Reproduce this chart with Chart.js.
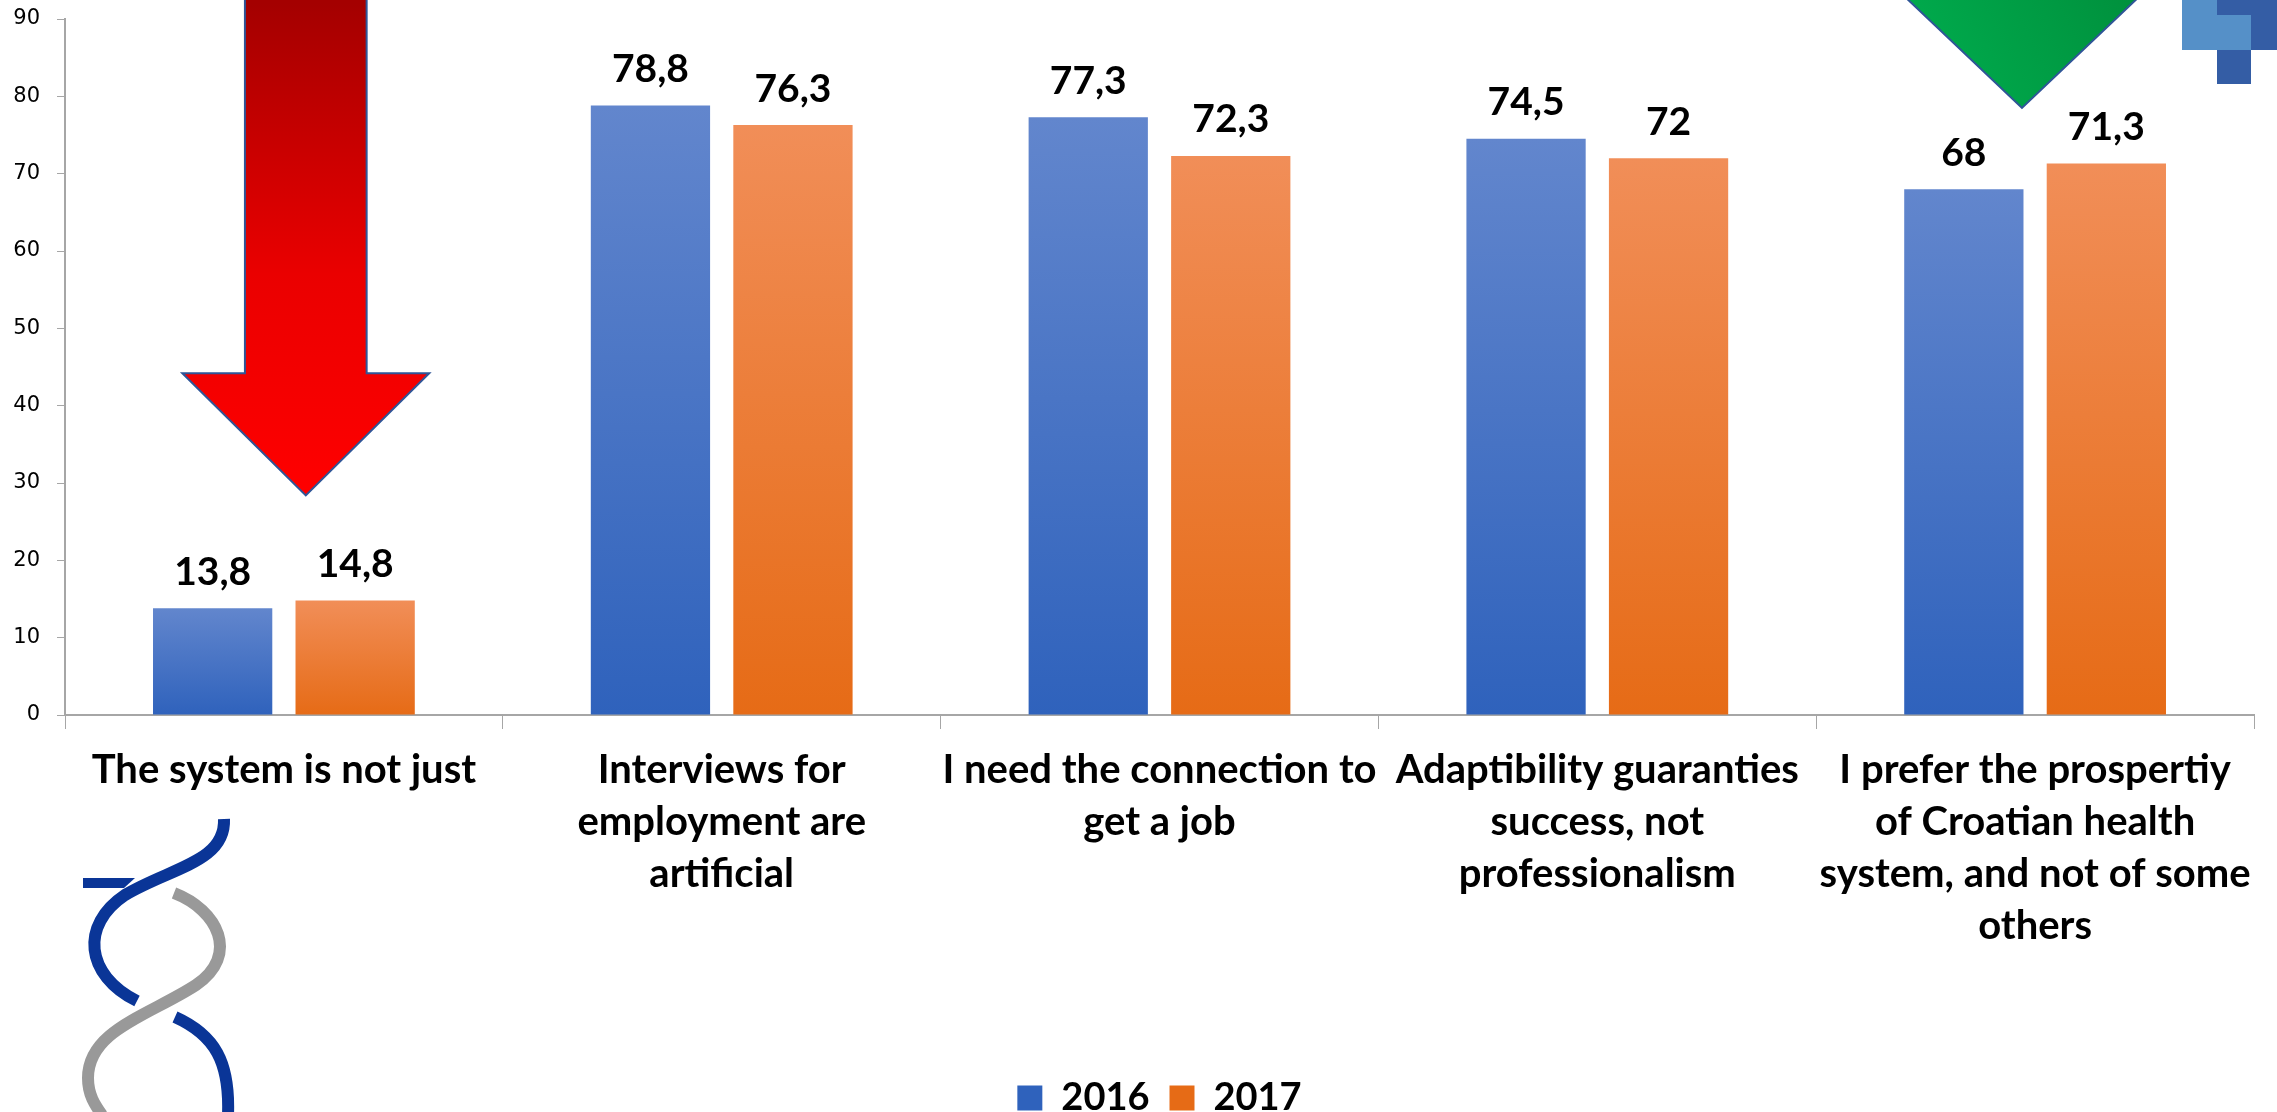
<!DOCTYPE html>
<html>
<head>
<meta charset="utf-8">
<script src="https://cdn.jsdelivr.net/npm/chart.js@4/dist/chart.umd.min.js"></script>
<style>
  html, body { margin: 0; padding: 0; background: #fff; }
  #wrap { width: 2277px; height: 1112px; }
</style>
</head>
<body>
<div id="wrap"><canvas id="chart" width="2277" height="1112"></canvas></div>
<script>
// categories (multi-line labels as shown under the axis)
const categories = [
  ['The system is not just'],
  ['Interviews for', 'employment are', 'artificial'],
  ['I need the connection to', 'get a job'],
  ['Adaptibility guaranties', 'success, not', 'professionalism'],
  ['I prefer the prospertiy', 'of Croatian health', 'system, and not of some', 'others']
];
const values2016 = [13.8, 78.8, 77.3, 74.5, 68];
const values2017 = [14.8, 76.3, 72.3, 72, 71.3];
const yTicks = [0, 10, 20, 30, 40, 50, 60, 70, 80, 90];

// vertical gradient from bar top to its base
function barFill(topColor, bottomColor, flat) {
  return (context) => {
    const chart = context.chart;
    const y = chart.scales.y;
    if (!y || context.type !== 'data') return flat;
    const yTop = y.getPixelForValue(context.raw);
    const yBase = y.getPixelForValue(0);
    if (!isFinite(yTop) || !isFinite(yBase) || yTop === yBase) return flat;
    const g = chart.ctx.createLinearGradient(0, yTop, 0, yBase);
    g.addColorStop(0, topColor);
    g.addColorStop(1, bottomColor);
    return g;
  };
}

// comma decimal labels above bars
const valueLabels = {
  id: 'valueLabels',
  afterDatasetsDraw(chart) {
    const ctx = chart.ctx;
    ctx.save();
    ctx.font = 'bold 39px Lato';
    ctx.fillStyle = '#000';
    ctx.textAlign = 'center';
    ctx.textBaseline = 'middle';
    chart.data.datasets.forEach((ds, i) => {
      chart.getDatasetMeta(i).data.forEach((bar, j) => {
        ctx.fillText(String(ds.data[j]).replace('.', ','), bar.x, bar.y - 36);
      });
    });
    ctx.restore();
  }
};

// decorations: arrows placed through the scales, plus the two logos
function arrowPath(ctx, cx, shaftHalf, headHalf, yShaftTop, yHeadTop, yTip) {
  ctx.beginPath();
  ctx.moveTo(cx - shaftHalf, yShaftTop);
  ctx.lineTo(cx + shaftHalf, yShaftTop);
  ctx.lineTo(cx + shaftHalf, yHeadTop);
  ctx.lineTo(cx + headHalf, yHeadTop);
  ctx.lineTo(cx, yTip);
  ctx.lineTo(cx - headHalf, yHeadTop);
  ctx.lineTo(cx - shaftHalf, yHeadTop);
  ctx.closePath();
}

const decorations = {
  id: 'decorations',
  beforeDatasetsDraw(chart) {
    const ctx = chart.ctx;
    const x = chart.scales.x, y = chart.scales.y;
    const cw = x.getPixelForValue(1) - x.getPixelForValue(0);

    ctx.save();
    // red arrow over the first category
    let cx = x.getPixelForValue(0) + 0.05 * cw;
    arrowPath(ctx, cx, 0.139 * cw, 0.282 * cw, y.getPixelForValue(96), y.getPixelForValue(44.2), y.getPixelForValue(28.4));
    let g = ctx.createLinearGradient(0, y.getPixelForValue(92), 0, y.getPixelForValue(28.4));
    g.addColorStop(0, '#a40000');
    g.addColorStop(0.55, '#ea0000');
    g.addColorStop(1, '#ff0000');
    ctx.fillStyle = g;
    ctx.fill();
    ctx.lineWidth = 2;
    ctx.strokeStyle = '#2f5597';
    ctx.stroke();

    // green arrow over the last category
    cx = x.getPixelForValue(4) - 0.03 * cw;
    arrowPath(ctx, cx, 0.2 * cw, 0.4 * cw, y.getPixelForValue(110), y.getPixelForValue(100), y.getPixelForValue(78.5));
    g = ctx.createLinearGradient(cx - 0.3 * cw, y.getPixelForValue(80), cx + 0.3 * cw, y.getPixelForValue(98));
    g.addColorStop(0, '#00b050');
    g.addColorStop(1, '#008c3a');
    ctx.fillStyle = g;
    ctx.fill();
    ctx.stroke();
    ctx.restore();
  },
  afterDraw(chart) {
    const ctx = chart.ctx;
    ctx.save();
    // square logo, top right
    ctx.fillStyle = '#5590c8';
    ctx.fillRect(2182, 0, 69, 50);
    ctx.fillStyle = '#345da5';
    ctx.fillRect(2217, 0, 60, 15);
    ctx.fillRect(2251, 15, 26, 35);
    ctx.fillRect(2217, 50, 34, 34);

    // helix logo, bottom left
    ctx.lineCap = 'butt';
    ctx.lineWidth = 12;
    ctx.strokeStyle = '#999999';
    ctx.beginPath();
    ctx.moveTo(174, 893);
    ctx.bezierCurveTo(218, 910, 240, 955, 196, 985);
    ctx.bezierCurveTo(150, 1015, 88, 1030, 88, 1078);
    ctx.bezierCurveTo(88, 1095, 95, 1105, 102, 1115);
    ctx.stroke();

    ctx.strokeStyle = '#0a3597';
    ctx.beginPath();
    ctx.moveTo(224, 819);
    ctx.bezierCurveTo(226, 862, 170, 868, 125, 895);
    ctx.bezierCurveTo(80, 925, 85, 975, 137, 1001);
    ctx.stroke();
    ctx.beginPath();
    ctx.moveTo(175, 1017);
    ctx.bezierCurveTo(215, 1035, 230, 1062, 228, 1115);
    ctx.stroke();
    ctx.fillStyle = '#0a3597';
    ctx.beginPath();
    ctx.moveTo(83, 878);
    ctx.lineTo(135, 878);
    ctx.lineTo(124, 888);
    ctx.lineTo(83, 888);
    ctx.closePath();
    ctx.fill();
    ctx.restore();
  }
};

new Chart(document.getElementById('chart').getContext('2d'), {
  type: 'bar',
  data: {
    labels: categories,
    datasets: [
      {
        label: '2016',
        data: values2016,
        backgroundColor: barFill('#6286cd', '#2f62bc', '#4a74c6')
      },
      {
        label: '2017',
        data: values2017,
        backgroundColor: barFill('#f18e58', '#e66b16', '#ee7d34')
      }
    ]
  },
  options: {
    responsive: false,
    animation: false,
    categoryPercentage: 0.651,
    barPercentage: 0.837,
    layout: { padding: { top: 19, right: 23, left: 0, bottom: -15 } },
    plugins: {
      tooltip: { enabled: false },
      legend: {
        position: 'bottom',
        fullSize: false,
        labels: {
          font: { family: 'Lato', weight: 'bold', size: 38 },
          color: '#000',
          boxWidth: 25,
          boxHeight: 25,
          padding: 20
        }
      }
    },
    scales: {
      x: {
        grid: { drawOnChartArea: false, drawTicks: true, tickLength: 14, color: '#a6a6a6', offset: true },
        border: { display: true, color: '#a6a6a6', width: 2 },
        ticks: {
          font: { family: 'Lato', weight: 'bold', size: 40, lineHeight: 1.3 },
          color: '#000',
          padding: 15,
          maxRotation: 0,
          autoSkip: false
        },
        afterFit: (scale) => { scale.height = 344; }
      },
      y: {
        min: 0,
        max: 90,
        afterBuildTicks: (scale) => { scale.ticks = yTicks.map(v => ({ value: v })); },
        grid: { drawOnChartArea: false, drawTicks: true, tickLength: 8, color: '#a6a6a6' },
        border: { display: true, color: '#a6a6a6', width: 2 },
        ticks: {
          font: { family: 'DejaVu Sans', size: 21 },
          color: '#000',
          padding: 17
        },
        afterFit: (scale) => {
          scale.width = 65;
          scale.paddingTop = 0;
          scale.paddingBottom = 0;
        }
      }
    }
  },
  plugins: [decorations, valueLabels]
});
</script>
</body>
</html>
